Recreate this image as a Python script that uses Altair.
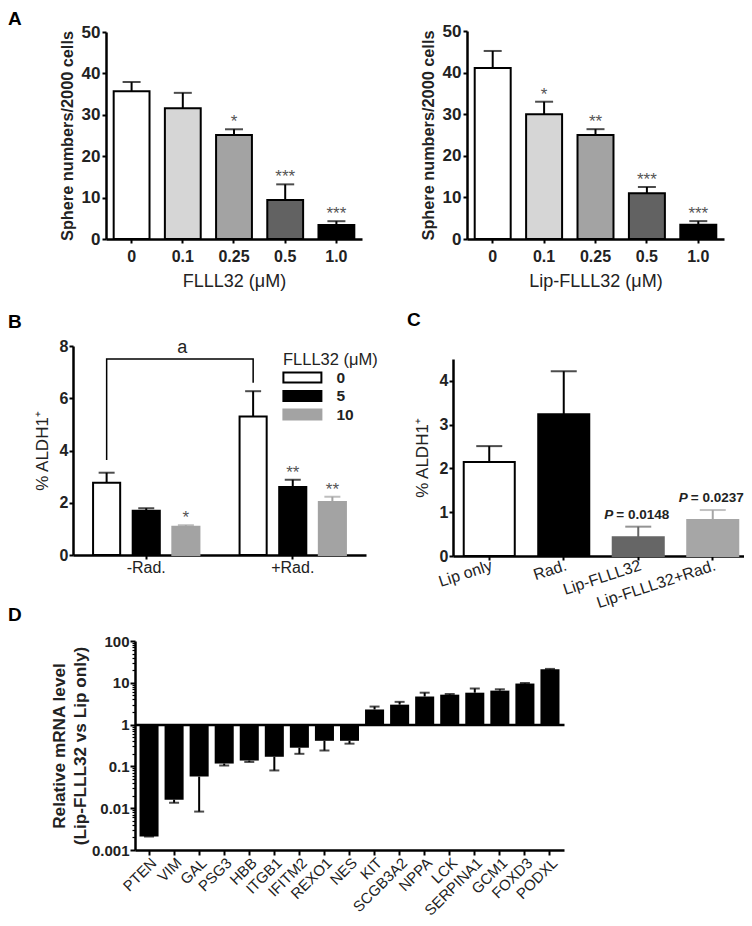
import math
import altair as alt
import pandas as pd

W, H = 736, 910
FONT = "Liberation Sans"
INK = "#222222"
STAR = "#555555"

# ---------------- data ----------------
# Panel A (sphere numbers / 2000 cells)
a_doses = ["0", "0.1", "0.25", "0.5", "1.0"]
a1_mean = [35.7, 31.6, 25.1, 9.4, 3.4]
a1_sem = [2.2, 3.7, 1.4, 3.8, 0.9]
a1_sig = ["", "", "*", "***", "***"]
a2_mean = [41.1, 30.0, 25.0, 11.0, 3.4]
a2_sem = [4.1, 3.0, 1.4, 1.5, 0.9]
a2_sig = ["", "*", "**", "***", "***"]

# Panel B (% ALDH1+, grouped)
b_groups = ["-Rad.", "+Rad."]
b_doses = ["0", "5", "10"]
b_minus_mean = [2.77, 1.69, 1.08]
b_minus_sem = [0.38, 0.10, 0.06]
b_minus_sig = ["", "", "*"]
b_plus_mean = [5.30, 2.60, 2.03]
b_plus_sem = [0.97, 0.28, 0.20]
b_plus_sig = ["", "**", "**"]
b_bracket_group = ["-Rad.", "-Rad.", "+Rad.", "+Rad."]
b_bracket_y = [3.64, 7.5, 7.5, 6.59]
b_bracket_label = ["a"]

# Panel C (% ALDH1+)
c_groups = ["Lip only", "Rad.", "Lip-FLLL32", "Lip-FLLL32+Rad."]
c_mean = [2.15, 3.24, 0.43, 0.82]
c_sem = [0.36, 0.98, 0.24, 0.23]
c_p = ["", "", "0.0148", "0.0237"]

# Panel D (relative mRNA level, log)
d_genes = ["PTEN", "VIM", "GAL", "PSG3", "HBB", "ITGB1", "IFITM2", "REXO1", "NES",
           "KIT", "SCGB3A2", "NPPA", "LCK", "SERPINA1", "GCM1", "FOXD3", "PODXL"]
d_mean = [0.0021, 0.016, 0.057, 0.117, 0.138, 0.17, 0.28, 0.41, 0.41,
          2.3, 3.0, 4.7, 5.2, 5.8, 6.5, 9.6, 21.0]
d_err_end = [0.0021, 0.0135, 0.0083, 0.105, 0.128, 0.08, 0.20, 0.24, 0.35,
             2.7, 3.5, 5.8, 5.4, 7.3, 7.0, 9.9, 21.5]
d_major = [0.001, 0.01, 0.1, 1, 10, 100]

# ---------------- styles ----------------
A_FILLS = ["#ffffff", "#d6d6d6", "#a3a3a3", "#626262", "#000000"]
B_FILLS = ["#ffffff", "#000000", "#a3a3a3"]
B_STROKES = ["#000000", "#000000", "#a3a3a3"]
C_FILLS = ["#ffffff", "#000000", "#666666", "#a6a6a6"]
C_STROKES = ["#000000", "#000000", "#666666", "#a6a6a6"]


def ax(**kw):
    spec = dict(domainColor="black", domainWidth=2.5, tickColor="black", tickWidth=2,
                tickSize=4, labelFont=FONT, labelColor=INK, titleFont=FONT,
                titleColor=INK, grid=False, labelOverlap=False)
    spec.update(kw)
    return alt.Axis(**spec)


def panel_a(mean, sem, sig, x0, x1, ytop, xtitle):
    df = pd.DataFrame({"dose": a_doses, "mean": mean, "sem": sem, "sig": sig})
    df["top"] = df["mean"] + df["sem"]
    ybot = 231
    xs = alt.Scale(domain=a_doses, range=[x0, x1], paddingInner=0.3, paddingOuter=0.15)
    ys = alt.Scale(domain=[0, 50], range=[ybot, ytop], nice=False)
    xax = ax(orient="bottom", offset=ybot - H, title=xtitle, labelAngle=0,
             labelFontSize=16, labelFontWeight="bold", labelPadding=5,
             titleFontSize=18, titleFontWeight="normal", titlePadding=8)
    yax = ax(orient="left", offset=-x0, values=[0, 10, 20, 30, 40, 50],
             title="Sphere numbers/2000 cells", labelFontSize=17, labelFontWeight="bold",
             labelPadding=2, titleFontSize=16.3, titleFontWeight="bold", titlePadding=6)
    X = alt.X("dose:N", scale=xs, axis=xax)

    def Y(f):
        return alt.Y(f + ":Q", scale=ys, axis=yax)

    base = alt.Chart(df)
    err = base.mark_rule(color="black", strokeWidth=2).encode(x=X, y=Y("mean"), y2="top:Q")
    cap = base.mark_tick(color="black", size=18, thickness=2).encode(x=X, y=Y("top"))
    bars = base.mark_bar(stroke="black", strokeWidth=2).encode(
        x=X, y=Y("mean"),
        fill=alt.Fill("dose:N", scale=alt.Scale(domain=a_doses, range=A_FILLS), legend=None))
    stars = base.mark_text(font=FONT, fontSize=17, color=STAR, baseline="alphabetic", dy=-2).encode(
        x=X, y=Y("top"), text="sig:N")
    return alt.layer(err, cap, bars, stars)


def panel_b():
    rows = []
    for g, means, sems, sigs in [("-Rad.", b_minus_mean, b_minus_sem, b_minus_sig),
                                 ("+Rad.", b_plus_mean, b_plus_sem, b_plus_sig)]:
        for d, m, s, sg in zip(b_doses, means, sems, sigs):
            rows.append({"group": g, "dose": d, "mean": m, "top": m + s, "sig": sg})
    df = pd.DataFrame(rows)
    br = pd.DataFrame({"group": b_bracket_group, "y": b_bracket_y, "i": list(range(len(b_bracket_y)))})
    lab = pd.DataFrame({"group": ["-Rad."], "y": [max(b_bracket_y)], "t": b_bracket_label})

    x0, x1, ybot, ytop = 65, 358, 547, 338
    xs = alt.Scale(domain=b_groups, range=[x0, x1], paddingInner=0.274, paddingOuter=0.137)
    xos = alt.Scale(domain=b_doses, paddingInner=0.316, paddingOuter=0)
    ys = alt.Scale(domain=[0, 8], range=[ybot, ytop], nice=False)
    xax = ax(orient="bottom", offset=ybot - H, title=None, labelAngle=0,
             labelFontSize=16, labelPadding=0)
    yax = ax(orient="left", offset=-x0, values=[0, 2, 4, 6, 8], title="% ALDH1⁺",
             labelFontSize=16, labelFontWeight="bold", labelPadding=1,
             titleFontSize=17, titleFontWeight="normal", titlePadding=8)
    X = alt.X("group:N", scale=xs, axis=xax)
    XO = alt.XOffset("dose:N", scale=xos)

    def Y(f):
        return alt.Y(f + ":Q", scale=ys, axis=yax)

    # wide flat swatch: path reaches beyond the unit box so rows stay compact
    leg = alt.Legend(orient="none", legendX=275, legendY=344, title="FLLL32 (μM)",
                     titleFont=FONT, titleFontSize=16.5, titleFontWeight="normal", titleColor=INK,
                     labelFont=FONT, labelFontSize=15.5, labelFontWeight="bold", labelColor=INK,
                     symbolType="M-2.5,-0.65H2.5V0.65H-2.5Z", symbolSize=231, symbolStrokeWidth=2,
                     symbolOffset=10.4, labelOffset=25,
                     rowPadding=0.5, titlePadding=0)
    F = alt.Fill("dose:N", scale=alt.Scale(domain=b_doses, range=B_FILLS), legend=leg)
    S = alt.Stroke("dose:N", scale=alt.Scale(domain=b_doses, range=B_STROKES), legend=leg)
    EC = alt.Color("ec:N", scale=None)

    base = alt.Chart(df).transform_calculate(ec="datum.dose == '10' ? '#a3a3a3' : 'black'")
    err = base.mark_rule(strokeWidth=2).encode(x=X, xOffset=XO, y=Y("mean"), y2="top:Q", color=EC)
    cap = base.mark_tick(size=16, thickness=2).encode(x=X, xOffset=XO, y=Y("top"), color=EC)
    bars = alt.Chart(df).mark_bar(strokeWidth=2).encode(x=X, xOffset=XO, y=Y("mean"), fill=F, stroke=S)
    stars = alt.Chart(df).mark_text(font=FONT, fontSize=17, color=STAR, baseline="alphabetic", dy=-2).encode(
        x=X, xOffset=XO, y=Y("top"), text="sig:N")
    bracket = alt.Chart(br).mark_line(color="black", strokeWidth=1.5, xOffset=-39.6).encode(
        x=X, y=Y("y"), order="i:Q")
    atext = alt.Chart(lab).mark_text(font=FONT, fontSize=18, color=INK, baseline="alphabetic",
                                     dx=36, dy=-6).encode(x=X, y=Y("y"), text="t:N")
    return alt.layer(err, cap, bars, stars, bracket, atext)


def panel_c():
    df = pd.DataFrame({"cat": c_groups, "mean": c_mean, "sem": c_sem, "p": c_p})
    df["top"] = df["mean"] + df["sem"]
    x0, x1, ybot, ytop = 445, 741, 548, 351
    xs = alt.Scale(domain=c_groups, range=[x0, x1], paddingInner=0.315, paddingOuter=0.144)
    ys = alt.Scale(domain=[0, 4.5], range=[ybot, ytop], nice=False)
    xax = ax(orient="bottom", offset=ybot - H, title=None, labelAngle=342, labelAlign="right",
             labelBaseline="top", labelFontSize=16, labelPadding=-3)
    yax = ax(orient="left", offset=-x0, values=[0, 1, 2, 3, 4], title="% ALDH1⁺",
             labelFontSize=16, labelFontWeight="bold", labelPadding=1,
             titleFontSize=17, titleFontWeight="normal", titlePadding=8)
    X = alt.X("cat:N", scale=xs, axis=xax)

    def Y(f):
        return alt.Y(f + ":Q", scale=ys, axis=yax)

    EC = alt.Color("ec:N", scale=None)
    base = alt.Chart(df).transform_calculate(
        ec="datum.cat == 'Lip-FLLL32' ? '#666666' : (datum.cat == 'Lip-FLLL32+Rad.' ? '#a6a6a6' : 'black')")
    err = base.mark_rule(strokeWidth=2).encode(x=X, y=Y("mean"), y2="top:Q", color=EC)
    cap = base.mark_tick(size=26, thickness=2).encode(x=X, y=Y("top"), color=EC)
    bars = alt.Chart(df).mark_bar(strokeWidth=2).encode(
        x=X, y=Y("mean"),
        fill=alt.Fill("cat:N", scale=alt.Scale(domain=c_groups, range=C_FILLS), legend=None),
        stroke=alt.Stroke("cat:N", scale=alt.Scale(domain=c_groups, range=C_STROKES), legend=None))
    pbase = alt.Chart(df).transform_filter("datum.p != ''").transform_calculate(pt="'= ' + datum.p")
    p1 = pbase.mark_text(font=FONT, fontSize=13.5, fontWeight="bold", fontStyle="italic", color=INK,
                         align="left", baseline="alphabetic", dx=-34, dy=-8).encode(
        x=X, y=Y("top"), text=alt.value("P"))
    p2 = pbase.mark_text(font=FONT, fontSize=13.5, fontWeight="bold", color=INK,
                         align="left", baseline="alphabetic", dx=-22, dy=-8).encode(
        x=X, y=Y("top"), text="pt:N")
    return alt.layer(err, cap, bars, p1, p2)


D_X0, D_X1, D_YBOT, D_YTOP = 127, 556, 842, 633


def d_scales():
    xs = alt.Scale(domain=d_genes, range=[D_X0, D_X1], paddingInner=0.24, paddingOuter=0.18)
    ys = alt.Scale(type="log", domain=[d_major[0], d_major[-1]], range=[D_YBOT, D_YTOP], nice=False)
    return xs, ys


def panel_d():
    df = pd.DataFrame({"gene": d_genes, "val": d_mean, "err": d_err_end})
    xs, ys = d_scales()
    xax = ax(orient="bottom", offset=D_YBOT - H, title=None, labelAngle=315, labelAlign="right",
             labelBaseline="top", labelFontSize=15, labelPadding=0, tickSize=5)
    yax = ax(orient="left", offset=-D_X0, values=d_major, format=".3~f",
             title=["Relative mRNA level", "(Lip-FLLL32 vs Lip only)"],
             labelFontSize=15, labelFontWeight="bold", labelPadding=1, tickSize=5,
             titleFontSize=17.2, titleFontWeight="bold", titlePadding=2, titleLineHeight=21)
    X = alt.X("gene:N", scale=xs, axis=xax)

    def Y(f):
        return alt.Y(f + ":Q", scale=ys, axis=yax)

    base = alt.Chart(df)
    bars = base.mark_bar(color="black").encode(x=X, y=Y("val"), y2=alt.datum(1))
    err = base.mark_rule(color="black", strokeWidth=2).encode(x=X, y=Y("val"), y2="err:Q")
    cap = base.mark_tick(color="black", size=10, thickness=2).encode(x=X, y=Y("err"))
    return alt.layer(bars, err, cap)


def panel_d_guides():
    # baseline at 1 and minor log ticks drawn as extra axes on identical scales
    df = pd.DataFrame({"gene": d_genes, "val": d_mean})
    xs, ys = d_scales()
    lo, hi = math.log10(d_major[0]), math.log10(d_major[-1])
    y_one = D_YBOT + (D_YTOP - D_YBOT) * (0 - lo) / (hi - lo)
    minor = [m * 10 ** k for k in range(-3, 2) for m in range(2, 10)]
    xax2 = alt.Axis(orient="bottom", offset=y_one - H, ticks=False, labels=False,
                    domainColor="black", domainWidth=2.5, title=None, grid=False)
    yax2 = alt.Axis(orient="left", offset=-D_X0, values=minor, labels=False, domain=False,
                    tickSize=3, tickWidth=1.2, tickColor="black", title=None, grid=False)
    return alt.Chart(df).mark_point(opacity=0).encode(
        x=alt.X("gene:N", scale=xs, axis=xax2), y=alt.Y("val:Q", scale=ys, axis=yax2))


def letter(t, x, y):
    return alt.Chart(pd.DataFrame({"t": [t]})).mark_text(
        font=FONT, fontSize=19, fontWeight="bold", color="black", align="left", baseline="top"
    ).encode(x=alt.value(x), y=alt.value(y), text="t:N")


layers = [
    panel_a(a1_mean, a1_sem, a1_sig, 98, 354, 24, "FLLL32 (μM)"),
    panel_a(a2_mean, a2_sem, a2_sig, 459, 716, 23, "Lip-FLLL32 (μM)"),
    panel_b(),
    panel_c(),
    panel_d_guides(),
    panel_d(),
    letter("A", 0, 2),
    letter("B", 0, 305),
    letter("C", 399, 303),
    letter("D", 0, 598),
]

chart = alt.layer(*layers).resolve_scale(
    x="independent", y="independent", fill="independent", stroke="independent", color="independent"
).resolve_axis(x="independent", y="independent").resolve_legend(
    fill="independent", stroke="independent", color="independent"
).properties(width=W, height=H, autosize="none", padding=0).configure_view(stroke=None)

chart.save("out.html", embed_options={"renderer": "svg", "actions": False})
